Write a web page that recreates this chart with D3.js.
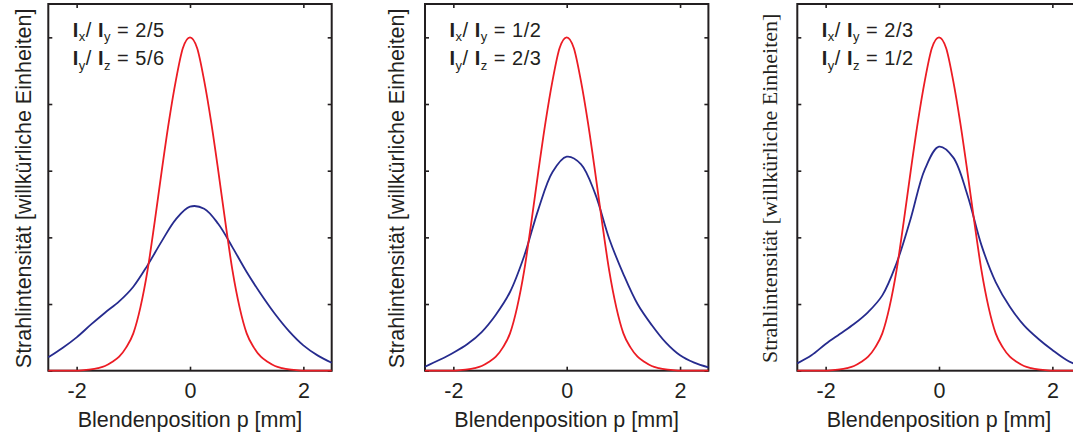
<!DOCTYPE html>
<html>
<head>
<meta charset="utf-8">
<script src="https://cdn.jsdelivr.net/npm/d3@7"></script>
<style>
  html, body { margin: 0; padding: 0; background: #fff; }
  svg { display: block; }
</style>
</head>
<body>
<svg id="chart" width="1073" height="436"></svg>
<script>
// Aperture positions (mm) at which the profiles are sampled
const pRed = [-2.5, -2.375, -2.25, -2.125, -2.0, -1.875, -1.75, -1.625, -1.5, -1.375, -1.25, -1.125,
  -1.0, -0.875, -0.75, -0.625, -0.5, -0.375, -0.25, -0.125, 0,
  0.125, 0.25, 0.375, 0.5, 0.625, 0.75, 0.875, 1.0, 1.125, 1.25, 1.375, 1.5, 1.625, 1.75,
  1.875, 2.0, 2.125, 2.25, 2.375, 2.5];
const pBlue = [-2.5, -2.25, -2.0, -1.75, -1.5, -1.25, -1.0, -0.75, -0.5, -0.25, 0,
  0.25, 0.5, 0.75, 1.0, 1.25, 1.5, 1.75, 2.0, 2.25, 2.5];

// Reference beam profile (red), identical in all three panels
const redProfile = [0, 0, 0, 0, 0, 0.01, 0.02, 0.04, 0.07, 0.13, 0.21, 0.35,
  0.56, 0.95, 1.50, 2.22, 2.99, 3.72, 4.35, 4.84, 5.0,
  4.84, 4.35, 3.72, 2.99, 2.22, 1.50, 0.95, 0.56, 0.35, 0.21, 0.13, 0.07, 0.04, 0.02,
  0.01, 0, 0, 0, 0, 0];

// Measured profiles (blue) for the three intensity ratios
const blue1 = [0.20, 0.34, 0.50, 0.69, 0.87, 1.04, 1.26, 1.58, 1.94, 2.27, 2.46,
  2.43, 2.20, 1.85, 1.48, 1.15, 0.85, 0.59, 0.38, 0.23, 0.12];
const blue2 = [0.06, 0.16, 0.27, 0.40, 0.58, 0.84, 1.18, 1.72, 2.42, 2.98, 3.21,
  3.10, 2.66, 1.98, 1.45, 1.00, 0.685, 0.42, 0.23, 0.12, 0.05];
const blue3 = [0.11, 0.23, 0.40, 0.55, 0.70, 0.88, 1.13, 1.61, 2.28, 3.02, 3.36,
  3.20, 2.64, 1.88, 1.33, 0.96, 0.68, 0.48, 0.31, 0.16, 0.06];

// Panel annotations: [numerator, denominator, value]
const ratioLines = [
  [["x", "y", "2/5"], ["y", "z", "5/6"]],
  [["x", "y", "1/2"], ["y", "z", "2/3"]],
  [["x", "y", "2/3"], ["y", "z", "1/2"]]
];
const blueSeries = [blue1, blue2, blue3];
const panelLeft = [48.3, 425, 797.3];
const yLabelFonts = ["'Liberation Sans', Arial, Helvetica, sans-serif",
                     "'Liberation Sans', Arial, Helvetica, sans-serif",
                     "'Liberation Serif', 'Times New Roman', serif"];

const xTicks = [-2, 0, 2];
const yTicks = [0, 1, 2, 3, 4, 5];
const xLabel = "Blendenposition p [mm]";
const yLabel = "Strahlintensität [willkürliche Einheiten]";

const W = 283.4, TOP = 4, BOTTOM = 370.7;
const SANS = "'Liberation Sans', Arial, Helvetica, sans-serif";
const INK = "#231f20";
const RED = "#ec1c24";
const BLUE = "#262b8e";

const svg = d3.select("#chart");

blueSeries.forEach((blue, i) => {
  const L = panelLeft[i];
  const x = d3.scaleLinear().domain([-2.5, 2.5]).range([L, L + W]);
  const y = d3.scaleLinear().domain([0, 5.5]).range([BOTTOM, TOP]);
  const g = svg.append("g");

  // frame
  g.append("rect")
    .attr("x", L).attr("y", TOP).attr("width", W).attr("height", BOTTOM - TOP)
    .attr("fill", "none").attr("stroke", INK).attr("stroke-width", 2);

  // axes with inward ticks on all four sides
  const styleAxis = sel => {
    sel.select(".domain").remove();
    sel.selectAll(".tick line").attr("stroke", INK).attr("stroke-width", 1.6);
  };
  g.append("g").attr("transform", `translate(0,${BOTTOM})`)
    .call(d3.axisBottom(x).tickValues(xTicks).tickSizeInner(-4).tickSizeOuter(0)
      .tickPadding(12.5).tickFormat(d => String(d)))
    .call(styleAxis)
    .call(s => s.selectAll(".tick text")
      .style("font-family", SANS).style("font-size", "21.5px").attr("fill", INK));
  g.append("g").attr("transform", `translate(0,${TOP})`)
    .call(d3.axisTop(x).tickValues(xTicks).tickSizeInner(-4).tickSizeOuter(0).tickFormat(""))
    .call(styleAxis);
  g.append("g").attr("transform", `translate(${L},0)`)
    .call(d3.axisLeft(y).tickValues(yTicks).tickSizeInner(-4).tickSizeOuter(0).tickFormat(""))
    .call(styleAxis);
  g.append("g").attr("transform", `translate(${L + W},0)`)
    .call(d3.axisRight(y).tickValues(yTicks).tickSizeInner(-4).tickSizeOuter(0).tickFormat(""))
    .call(styleAxis);

  // profiles
  const blueLine = d3.line().curve(d3.curveCatmullRom.alpha(0.5))
    .x(d => x(d[0])).y(d => y(d[1]));
  const redLine = d3.line().curve(d3.curveMonotoneX)
    .x(d => x(d[0])).y(d => y(d[1]));
  g.append("path")
    .datum(pBlue.map((p, k) => [p, blue[k]]))
    .attr("d", blueLine).attr("fill", "none").attr("stroke", BLUE).attr("stroke-width", 1.8);
  g.append("path")
    .datum(pRed.map((p, k) => [p, redProfile[k]]))
    .attr("d", redLine).attr("fill", "none").attr("stroke", RED).attr("stroke-width", 1.8);

  // axis titles
  const cx = L + W / 2;
  g.append("text")
    .attr("x", cx).attr("y", 426.5)
    .attr("text-anchor", "middle")
    .style("font-family", SANS).style("font-size", "21.5px").attr("fill", INK)
    .text(xLabel);
  const cy = (TOP + BOTTOM) / 2 + 1;
  const bx = [30.5, 404, 776.5][i];
  g.append("text")
    .attr("transform", `translate(${bx},${cy}) rotate(-90)`)
    .attr("text-anchor", "middle")
    .style("font-family", yLabelFonts[i]).style("font-size", i === 2 ? "22px" : "21.5px")
    .attr("fill", INK)
    .text(yLabel);

  // ratio annotation
  ratioLines[i].forEach((r, k) => {
    const t = g.append("text")
      .attr("x", L + 24.5).attr("y", 36.7 + k * 28.3)
      .style("font-family", SANS).style("font-size", "20px").attr("fill", INK)
      .style("letter-spacing", "0.5px");
    t.append("tspan").style("font-weight", "bold").text("I");
    t.append("tspan").style("font-size", "13px").attr("dy", 4.5).text(r[0]);
    t.append("tspan").attr("dy", -4.5).text("/\u00a0");
    t.append("tspan").style("font-weight", "bold").text("I");
    t.append("tspan").style("font-size", "13px").attr("dy", 4.5).text(r[1]);
    t.append("tspan").attr("dy", -4.5).text("\u00a0=\u00a0" + r[2]);
  });
});
</script>
</body>
</html>
